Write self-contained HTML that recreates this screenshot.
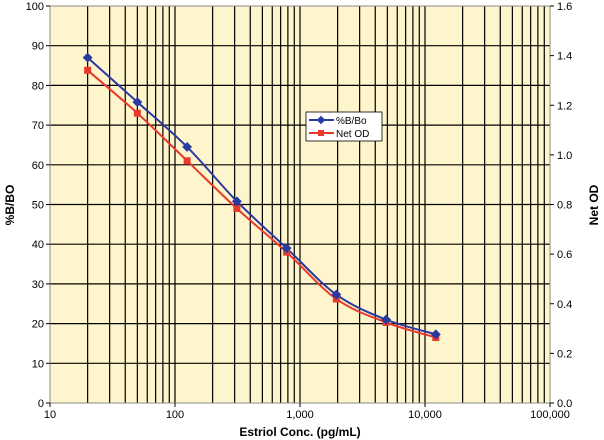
<!DOCTYPE html><html><head><style>body{margin:0;background:#fff}svg{display:block}text{font-family:"Liberation Sans",sans-serif;font-size:11px;fill:#000}</style></head><body>
<svg width="604" height="440" xmlns="http://www.w3.org/2000/svg">
<rect x="50" y="6" width="500" height="397" fill="#fff5cc"/>
<g id="g" stroke="#000" stroke-width="1.2"></g>
<rect x="50" y="6" width="500" height="397" fill="none" stroke="#888" stroke-width="1"/>
<g id="t"></g>
<text x="300" y="436" text-anchor="middle" font-weight="bold" style="font-size:12px">Estriol Conc. (pg/mL)</text>
<text transform="translate(14,205) rotate(-90)" text-anchor="middle" font-weight="bold" style="font-size:12px">%B/BO</text>
<text transform="translate(598,205) rotate(-90)" text-anchor="middle" font-weight="bold" style="font-size:12px">Net OD</text>
<g id="s"></g>
<rect x="306" y="112" width="76" height="29" fill="#fff" stroke="#000" stroke-width="0.8"/>
<line x1="309" y1="120" x2="334" y2="120" stroke="#2b3aa0" stroke-width="2"/><rect x="318" y="117" width="6" height="6" fill="#2b3aa0" transform="rotate(45 321 120)"/>
<text x="336" y="124" style="font-size:10px">%B/Bo</text>
<line x1="309" y1="133" x2="334" y2="133" stroke="#e8392a" stroke-width="2"/><rect x="318" y="130" width="6" height="6" fill="#e8392a"/>
<text x="336" y="137" style="font-size:10px">Net OD</text>
</svg>
<script>
const ns="http://www.w3.org/2000/svg";
function el(p,t,a,txt){const e=document.createElementNS(ns,t);for(const k in a)e.setAttribute(k,a[k]);if(txt)e.textContent=txt;document.getElementById(p).appendChild(e);}
const X=v=>50+125*(Math.log10(v)-1), Y=p=>403-3.97*p;
for(let d=1;d<=4;d++)for(let m=1;m<=9;m++){const x=X(m*Math.pow(10,d));if(x>50&&x<550)el('g','line',{x1:x,y1:6,x2:x,y2:403});}
for(let i=1;i<10;i++)el('g','line',{x1:50,y1:Y(i*10),x2:550,y2:Y(i*10)});
for(let i=0;i<=10;i++){const y=Y(i*10);el('t','line',{x1:46,y1:y,x2:50,y2:y,stroke:'#000'});el('t','text',{x:44,y:y+4,'text-anchor':'end'},String(i*10));}
for(let i=0;i<=8;i++){const y=403-i*397/8;el('t','line',{x1:550,y1:y,x2:554,y2:y,stroke:'#000'});el('t','text',{x:557,y:y+4},(i*0.2).toFixed(1));}
['10','100','1,000','10,000','100,000'].forEach((l,i)=>{const x=50+125*i;el('t','line',{x1:x,y1:403,x2:x,y2:407,stroke:'#000'});el('t','text',{x:x,y:418,'text-anchor':'middle'},l);});
const xs=[20,50,125,312.5,781,1953,4883,12207];
const b=[87,75.8,64.5,50.8,39,27.3,21,17.3], r=[83.8,73,61,49,38,26.2,20.3,16.5];
function smooth(P){let d=`M${P[0][0]},${P[0][1]}`;for(let i=0;i<P.length-1;i++){const p0=P[i-1]||P[i],p1=P[i],p2=P[i+1],p3=P[i+2]||p2;
d+=` C${p1[0]+(p2[0]-p0[0])/6},${p1[1]+(p2[1]-p0[1])/6} ${p2[0]-(p3[0]-p1[0])/6},${p2[1]-(p3[1]-p1[1])/6} ${p2[0]},${p2[1]}`;}return d;}
el('s','path',{d:smooth(xs.map((v,i)=>[X(v),Y(r[i])])),fill:'none',stroke:'#e8392a','stroke-width':2});
el('s','path',{d:smooth(xs.map((v,i)=>[X(v),Y(b[i])])),fill:'none',stroke:'#2b3aa0','stroke-width':2});
xs.forEach((v,i)=>{const x=X(v);el('s','rect',{x:x-3.5,y:Y(r[i])-3.5,width:7,height:7,fill:'#e8392a'});
el('s','rect',{x:x-3.5,y:Y(b[i])-3.5,width:7,height:7,fill:'#2b3aa0',transform:`rotate(45 ${x} ${Y(b[i])})`});});
</script></body></html>
